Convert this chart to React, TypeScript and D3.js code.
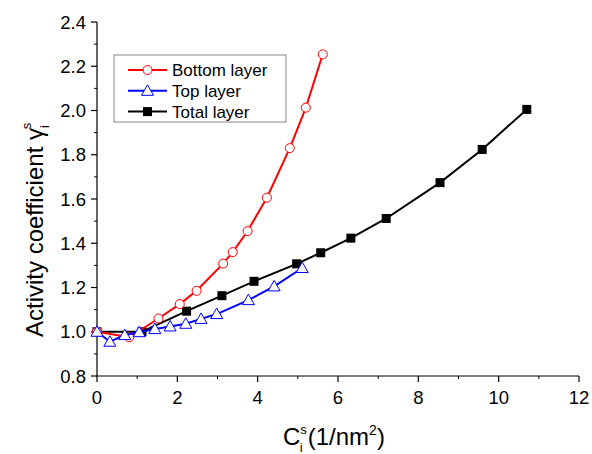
import React from 'react';
import * as d3 from 'd3';

type Pt = { x: number; y: number };

const bottomLayer: Pt[] = [
  { x: 0, y: 1.0 }, { x: 0.8, y: 0.975 }, { x: 1.53, y: 1.06 }, { x: 2.06, y: 1.125 },
  { x: 2.48, y: 1.185 }, { x: 3.14, y: 1.308 }, { x: 3.38, y: 1.36 }, { x: 3.75, y: 1.455 },
  { x: 4.23, y: 1.606 }, { x: 4.8, y: 1.83 }, { x: 5.2, y: 2.013 }, { x: 5.62, y: 2.254 }
];

const topLayer: Pt[] = [
  { x: 0, y: 1.0 }, { x: 0.32, y: 0.955 }, { x: 0.69, y: 0.985 }, { x: 1.05, y: 0.998 },
  { x: 1.44, y: 1.012 }, { x: 1.82, y: 1.024 }, { x: 2.21, y: 1.036 }, { x: 2.59, y: 1.058 },
  { x: 2.98, y: 1.08 }, { x: 3.77, y: 1.143 }, { x: 4.41, y: 1.205 }, { x: 5.11, y: 1.288 }
];

const totalLayer: Pt[] = [
  { x: 0, y: 1.0 }, { x: 1.12, y: 1.0 }, { x: 2.23, y: 1.093 }, { x: 3.11, y: 1.163 },
  { x: 3.91, y: 1.228 }, { x: 4.97, y: 1.307 }, { x: 5.57, y: 1.357 }, { x: 6.32, y: 1.423 },
  { x: 7.2, y: 1.512 }, { x: 8.54, y: 1.674 }, { x: 9.59, y: 1.824 }, { x: 10.7, y: 2.005 }
];

const xTicks = [0, 2, 4, 6, 8, 10, 12];
const yTicks = [0.8, 1.0, 1.2, 1.4, 1.6, 1.8, 2.0, 2.2, 2.4];
const legendLabels = ['Bottom layer', 'Top layer', 'Total layer'];

const font = 'Arial, "Liberation Sans", sans-serif';

const App = () => {
  const left = 97, right = 579, top = 22, bottom = 376;

  const x = d3.scaleLinear().domain([0, 12]).range([left, right]);
  const y = d3.scaleLinear().domain([0.8, 2.4]).range([bottom, top]);

  const line = d3.line<Pt>().x(d => x(d.x)).y(d => y(d.y));

  const xMinor = d3.range(1, 12, 2);
  const yMinor = d3.range(0.9, 2.4, 0.2);

  const circle = (cx: number, cy: number, k: string) => (
    <circle key={k} cx={cx} cy={cy} r={4.5} fill="#fff" stroke="#ff0000" strokeWidth={1} />
  );
  const tri = (cx: number, cy: number, k: string) => (
    <path key={k} d={`M${cx},${cy - 6}L${cx + 6},${cy + 4.5}L${cx - 6},${cy + 4.5}Z`} fill="#fff" stroke="#0000ff" strokeWidth={1} />
  );
  const square = (cx: number, cy: number, k: string) => (
    <rect key={k} x={cx - 4.5} y={cy - 4.5} width={9} height={9} fill="#000" />
  );

  const legendRows = [
    { color: '#ff0000', marker: circle },
    { color: '#0000ff', marker: tri },
    { color: '#000', marker: square }
  ];

  return (
    <svg width={592} height={454} style={{ position: 'absolute', left: 0, top: 0, background: '#fff', fontFamily: font }}>
      <rect width={592} height={454} fill="#fff" />

      {/* axes */}
      <line x1={left} x2={left} y1={top} y2={bottom} stroke="#000" strokeWidth={1.2} />
      <line x1={left} x2={right} y1={bottom} y2={bottom} stroke="#000" strokeWidth={1.2} />

      {xTicks.map(t => (
        <g key={`xt${t}`}>
          <line x1={x(t)} x2={x(t)} y1={bottom} y2={bottom + 6} stroke="#000" strokeWidth={1.2} />
          <text x={x(t)} y={bottom + 28} textAnchor="middle" fontSize={18.5}>{t}</text>
        </g>
      ))}
      {xMinor.map(t => (
        <line key={`xm${t}`} x1={x(t)} x2={x(t)} y1={bottom} y2={bottom + 3} stroke="#000" strokeWidth={1} />
      ))}
      {yTicks.map(t => (
        <g key={`yt${t}`}>
          <line x1={left - 6} x2={left} y1={y(t)} y2={y(t)} stroke="#000" strokeWidth={1.2} />
          <text x={left - 11} y={y(t) + 6.5} textAnchor="end" fontSize={18.5}>{t.toFixed(1)}</text>
        </g>
      ))}
      {yMinor.map(t => (
        <line key={`ym${t.toFixed(1)}`} x1={left - 3} x2={left} y1={y(t)} y2={y(t)} stroke="#000" strokeWidth={1} />
      ))}

      {/* axis titles */}
      <text transform="translate(43, 337) rotate(-90)" fontSize={24}>
        Activity coefficient γ
        <tspan fontSize={13} dy={6}>i</tspan>
        <tspan fontSize={13} dx={-4} dy={-18}>s</tspan>
      </text>
      <text x={283} y={445} fontSize={24}>
        C
        <tspan fontSize={13} dy={-11}>s</tspan>
        <tspan fontSize={13} dx={-7} dy={18}>i</tspan>
        <tspan dx={5} dy={-7}>(1/nm</tspan>
        <tspan fontSize={14} dy={-10}>2</tspan>
        <tspan dy={10}>)</tspan>
      </text>

      {/* series */}
      <path d={line(totalLayer) ?? ''} fill="none" stroke="#000" strokeWidth={2} />
      {totalLayer.map((d, i) => square(x(d.x), y(d.y), `s${i}`))}
      <path d={line(bottomLayer) ?? ''} fill="none" stroke="#ff0000" strokeWidth={2} />
      {bottomLayer.map((d, i) => circle(x(d.x), y(d.y), `c${i}`))}
      <path d={line(topLayer) ?? ''} fill="none" stroke="#0000ff" strokeWidth={2} />
      {topLayer.map((d, i) => tri(x(d.x), y(d.y), `t${i}`))}

      {/* legend */}
      <rect x={114} y={55} width={172} height={67} fill="#fff" stroke="#888" strokeWidth={1} />
      {legendLabels.map((label, i) => {
        const cy = 70 + i * 20.8;
        const row = legendRows[i];
        return (
          <g key={label}>
            <line x1={128} x2={167} y1={cy} y2={cy} stroke={row.color} strokeWidth={2} />
            {row.marker(147.5, cy, `lm${i}`)}
            <text x={172} y={cy + 6} fontSize={17}>{label}</text>
          </g>
        );
      })}
    </svg>
  );
};

export default App;
